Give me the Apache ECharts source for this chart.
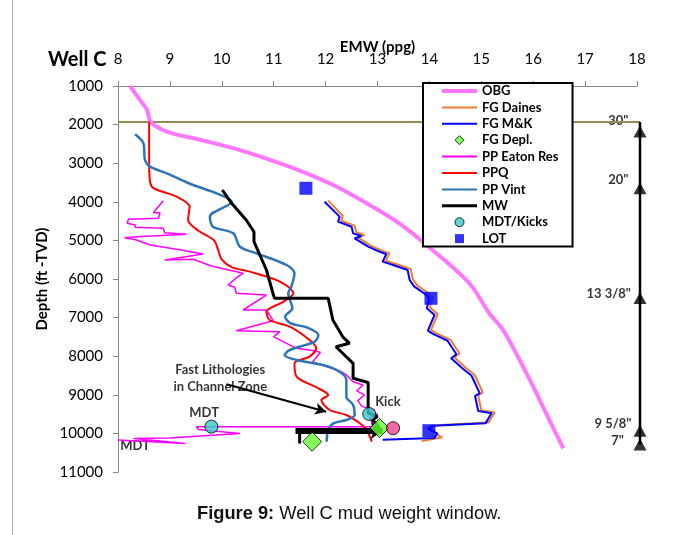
<!DOCTYPE html>
<html><head><meta charset="utf-8">
<script src="https://cdn.jsdelivr.net/npm/echarts@6/dist/echarts.min.js"></script>
<style>html,body{margin:0;padding:0;background:#fff}#c{width:678px;height:535px}</style>
</head><body><div id="c"></div><script>
// ---- data (EMW ppg, depth ft TVD) ----
const xTicks = [8,9,10,11,12,13,14,15,16,17,18];
const yTicks = [1000,2000,3000,4000,5000,6000,7000,8000,9000,10000,11000];
const obg = [[8.23,1000],[8.42,1360],[8.56,1620],[8.63,1930],[8.94,2180],[9.6,2400],[10.22,2610],[10.9,2900],[11.5,3190],[12.14,3560],[12.79,4040],[13.42,4560],[14.06,5250],[14.77,6110],[15.15,6880],[15.42,7320],[15.87,8440],[16.25,9480],[16.58,10390]];
const fgDaines = [[12.05,3970],[12.33,4360],[12.3,4490],[12.56,4620],[12.59,4790],[12.75,4860],[12.62,4920],[12.88,5140],[13.1,5270],[13.23,5330],[13.16,5530],[13.36,5610],[13.64,5740],[13.68,6000],[13.77,6170],[13.96,6350],[14.06,6480],[14.01,6740],[14.16,6910],[14.03,7320],[14.13,7400],[14.41,7580],[14.58,7930],[14.48,8030],[14.71,8310],[14.87,8480],[15.03,8940],[14.94,9010],[15.0,9400],[15.26,9460],[15.14,9720],[14.13,9790],[14.03,9870],[14.2,10080],[14.25,10100],[13.85,10200]];
const fgMK = [[11.98,3997],[12.27,4385],[12.24,4515],[12.5,4645],[12.53,4817],[12.69,4886],[12.56,4946],[12.82,5163],[13.04,5293],[13.17,5352],[13.1,5551],[13.3,5637],[13.58,5767],[13.62,6026],[13.71,6199],[13.9,6372],[14.0,6500],[13.95,6760],[14.1,6930],[13.97,7340],[14.07,7420],[14.35,7600],[14.52,7950],[14.42,8054],[14.65,8330],[14.81,8500],[14.97,8962],[14.88,9030],[14.94,9420],[15.2,9480],[15.08,9740],[14.07,9800],[13.97,9880],[14.15,10000],[14.1,10120],[13.1,10165]];
const ppEaton = [[8.87,3971],[8.68,4282],[8.81,4282],[8.78,4428],[8.2,4453],[8.18,4557],[8.33,4600],[8.33,4660],[8.87,4686],[8.9,4800],[9.32,4842],[8.36,4904],[8.13,4930],[8.36,4990],[8.62,5119],[9.13,5231],[9.64,5352],[8.9,5508],[9.45,5490],[9.8,5663],[10.41,5853],[10.31,5940],[10.12,6155],[10.25,6215],[10.28,6370],[10.86,6415],[10.41,6803],[10.86,6803],[10.99,7080],[10.28,7339],[11.12,7364],[11.0,7500],[11.44,7796],[11.75,7850],[11.9,7900],[11.75,8150],[12.02,8270],[12.3,8400],[12.4,8487],[12.53,8660],[12.72,8746],[12.6,8900],[12.75,9000],[12.62,9150],[12.7,9300],[12.95,9400],[12.8,9480],[13.0,9500],[12.85,9600],[12.95,9826],[9.51,9826],[9.55,9900],[10.35,10000],[9.0,10120],[8.3,10130],[9.3,10260],[8.0,10170]];
const ppq = [[8.6,1925],[8.6,3000],[8.62,3500],[8.7,3660],[9.13,3867],[9.38,4126],[9.35,4472],[9.55,4750],[9.85,5000],[9.93,5250],[10.0,5500],[10.2,5700],[10.54,5810],[11.12,6067],[11.38,6372],[11.19,6588],[10.86,6850],[10.92,7062],[11.31,7235],[11.69,7580],[11.82,7796],[11.69,8012],[11.4,8184],[11.44,8529],[11.86,8832],[12.05,9005],[11.92,9135],[12.08,9394],[12.4,9523],[12.66,9738],[12.79,9912],[12.89,10215]];
const ppVint = [[8.33,2251],[8.49,2485],[8.52,2917],[8.62,3090],[8.94,3262],[9.45,3565],[9.9,3780],[10.19,3997],[9.77,4385],[9.83,4645],[10.22,4816],[10.35,5163],[10.67,5335],[11.25,5637],[11.4,5853],[11.34,6199],[11.28,6372],[11.36,6760],[11.22,6976],[11.33,7148],[11.65,7260],[11.86,7451],[11.79,7624],[11.31,7839],[11.21,7969],[11.44,8098],[11.95,8228],[12.27,8401],[12.4,8617],[12.4,9049],[12.53,9264],[12.56,9523],[12.4,9653],[12.15,9738],[12.05,9912],[12.02,10215]];
const mw = [[10.01,3694],[10.19,4039],[10.47,4472],[10.62,4775],[10.62,5034],[10.86,5767],[11.0,6440],[11.02,6500],[12.05,6500],[12.14,7062],[12.33,7495],[12.46,7666],[12.2,7754],[12.53,8184],[12.53,8573],[12.82,8680],[12.82,9479],[13.0,9560],[12.9,9650],[13.0,9780],[13.05,9930],[11.5,9930],[11.5,10260]];
const mwBar = [[11.42,9930],[13.1,9930]];
const fgDepl = [[11.74,10215],[13.04,9860]];
const mdtKicks = [[9.8,9826],[12.84,9497]];
const otherKick = [[13.3,9865]];
const lot = [[11.62,3650],[14.03,6500],[13.99,9930]];
// casing scale: drawn on a companion grid whose right edge sits just outside the plot
const casingTop = [[8,1930],[18,1930]];
const casingLine = [[18,1930],[18,10290]];
const casingNames = ['30"','20"','13 3/8"','9 5/8"','7"'];
const casingDepths = [2180,3650,6490,9930,10290];
const casingX = 18;
const noteTexts = ['Fast Lithologies\nin Channel Zone','MDT','MDT','Kick'];
const notePos = [[9.97,8580],[9.66,9464],[8.33,10318],[13.2,9178]];
const noteArrow = [[10.09,8728],[12.01,9438]];

const F = 'Lato, "Open Sans", sans-serif';
const chart = echarts.init(document.getElementById('c'), null, {renderer:'canvas'});

function ln(name, data, color, width, extra){
  return Object.assign({name, type:'line', data, symbol:'none', showSymbol:false,
    lineStyle:{color, width}, itemStyle:{color}, animation:false, silent:true}, extra||{});
}
const casingLabelCfg = [
  {distance:5, offset:[0,-11]},
  {distance:5, offset:[0,-8]},
  {distance:2.5, offset:[0,-4.5]},
  {distance:2, offset:[0,-7]},
  {distance:9.5, offset:[0,-3.5]}
];
const bar = h => 'path://M0,0h35v' + h + 'h-35z';
const sq = 'path://M0,0h10v10h-10z';
const dia = 'path://M5,0L10,5L5,10L0,5z';

const option = {
  animation:false,
  backgroundColor:'#fff',
  textStyle:{fontFamily:F},
  title:[
    {text:'Well C', left:43, top:45, textStyle:{fontFamily:F, fontSize:20, fontWeight:'bold', color:'#000'}},
    {text:'{b|Figure 9:} Well C mud weight window.', left:192, top:500,
     textStyle:{fontFamily:'"Liberation Sans", Arial, sans-serif', fontSize:18.3, fontWeight:'normal', color:'#111',
       rich:{b:{fontFamily:'"Liberation Sans", Arial, sans-serif', fontSize:18.3, fontWeight:'bold', color:'#111'}}}}
  ],
  graphic:[{type:'line', shape:{x1:12.5,y1:0,x2:12.5,y2:535}, style:{stroke:'#b5b5b5', lineWidth:1}}],
  grid:[{left:118, top:86, right:41, bottom:63},
        {left:118, top:86, right:38, bottom:63, show:false}],
  legend:{
    orient:'vertical', left:423, top:83, padding:[1,14,1,19],
    itemWidth:35, itemHeight:9, itemGap:2.4,
    backgroundColor:'#fff', borderColor:'#000', borderWidth:2, z:20,
    textStyle:{fontFamily:F, fontSize:13, fontWeight:'bold', color:'#000', lineHeight:14},
    data:[
      {name:'OBG', icon:bar(4), itemStyle:{color:'#FF77FF'}},
      {name:'FG Daines', icon:bar(2), itemStyle:{color:'#ED7D31'}},
      {name:'FG M&K', icon:bar(2), itemStyle:{color:'#0000FF'}},
      {name:'FG Depl.', icon:dia, itemStyle:{color:'#66FF33', borderColor:'#000', borderWidth:1}},
      {name:'PP Eaton Res', icon:bar(2), itemStyle:{color:'#FF00FF'}},
      {name:'PPQ', icon:bar(2), itemStyle:{color:'#FF0000'}},
      {name:'PP Vint', icon:bar(2), itemStyle:{color:'#2E75B6'}},
      {name:'MW', icon:bar(3), itemStyle:{color:'#000000'}},
      {name:'MDT/Kicks', icon:'circle', itemStyle:{color:'#33CCCC', borderColor:'#000', borderWidth:1}},
      {name:'LOT', icon:sq, itemStyle:{color:'#0000FF'}}
    ]
  },
  xAxis:[{type:'value', gridIndex:0, position:'top', min:xTicks[0], max:xTicks[xTicks.length-1], interval:1,
    name:'EMW (ppg)', nameLocation:'middle', nameGap:31, nameMoveOverlap:false,
    nameTextStyle:{fontFamily:F, fontSize:15, fontWeight:'bold', color:'#000'},
    axisLine:{show:true, lineStyle:{color:'#868686'}},
    axisTick:{show:true, length:5, lineStyle:{color:'#868686'}},
    axisLabel:{fontFamily:F, fontSize:15, color:'#000', margin:19},
    splitLine:{show:false}},
    {type:'value', gridIndex:1, min:8, max:18, show:false}],
  yAxis:[{type:'value', gridIndex:0, inverse:true, min:yTicks[0], max:yTicks[yTicks.length-1], interval:1000,
    name:'Depth (ft -TVD)', nameLocation:'middle', nameRotate:90, nameGap:68, nameMoveOverlap:false,
    nameTextStyle:{fontFamily:F, fontSize:15, fontWeight:'bold', color:'#000'},
    axisLine:{show:true, lineStyle:{color:'#868686'}},
    axisTick:{show:true, length:5, lineStyle:{color:'#868686'}},
    axisLabel:{fontFamily:F, fontSize:15, color:'#000', margin:15, formatter:v=>String(v)},
    splitLine:{show:false}},
    {type:'value', gridIndex:1, inverse:true, min:1000, max:11000, show:false}],
  series:[
    ln('casing30', casingTop, '#948A54', 2, {xAxisIndex:1, yAxisIndex:1}),
    ln('OBG', obg, '#FF77FF', 4, {smooth:0.3}),
    ln('FG Daines', fgDaines, '#ED7D31', 2),
    ln('FG M&K', fgMK, '#0000FF', 2),
    ln('PP Eaton Res', ppEaton, '#FF00FF', 1.5),
    ln('PPQ', ppq, '#FF0000', 2, {smooth:0.3}),
    ln('PP Vint', ppVint, '#2E75B6', 2.5, {smooth:0.3}),
    ln('MW', mw, '#000000', 3, {
      markLine:{silent:true, symbol:['none','arrow'], symbolSize:[13,12], animation:false,
        label:{show:false}, lineStyle:{color:'#000', width:6, type:'solid'},
        data:[[{coord:mwBar[0]},{coord:mwBar[1]}]]}
    }),
    {name:'notes', type:'scatter', symbolSize:0, animation:false, silent:true,
      data:noteTexts.map((t,i)=>({name:t, value:notePos[i]})),
      label:{show:true, position:'inside', formatter:'{b}', fontFamily:F, fontSize:13, fontWeight:'bold', color:'#000', lineHeight:17},
      markLine:{silent:true, symbol:['none','arrow'], symbolSize:[9,11], animation:false,
        label:{show:false}, lineStyle:{color:'#000', width:2, type:'solid'},
        data:[[{coord:noteArrow[0]},{coord:noteArrow[1]}]]}},
    {name:'FG Depl.', type:'scatter', data:fgDepl, symbol:'diamond', symbolSize:19,
      itemStyle:{color:'#66FF33', borderColor:'#000', borderWidth:1}, z:5, silent:true},
    {name:'MDT/Kicks', type:'scatter', data:mdtKicks, symbol:'circle', symbolSize:13,
      itemStyle:{color:'#33CCCC', borderColor:'#000', borderWidth:1}, z:6, silent:true},
    {name:'kick2', type:'scatter', data:otherKick, symbol:'circle', symbolSize:13,
      itemStyle:{color:'#F4428C', borderColor:'#000', borderWidth:1}, z:6, silent:true},
    {name:'LOT', type:'scatter', data:lot, symbol:'rect', symbolSize:13,
      itemStyle:{color:'#0000FF'}, z:6, silent:true},
    ln('casingLine', casingLine, '#000000', 2.5, {xAxisIndex:1, yAxisIndex:1, clip:false}),
    {name:'casing', type:'scatter', xAxisIndex:1, yAxisIndex:1, clip:false, symbol:'triangle', symbolSize:[13,12], silent:true,
      itemStyle:{color:'#000'},
      data:casingNames.map((n,i)=>({name:n, value:[casingX, casingDepths[i]],
        label:Object.assign({show:true, position:'left', formatter:'{b}', fontFamily:F, fontSize:13, fontWeight:'bold', color:'#000'}, casingLabelCfg[i])}))}
  ]
};
chart.setOption(option);
</script></body></html>
